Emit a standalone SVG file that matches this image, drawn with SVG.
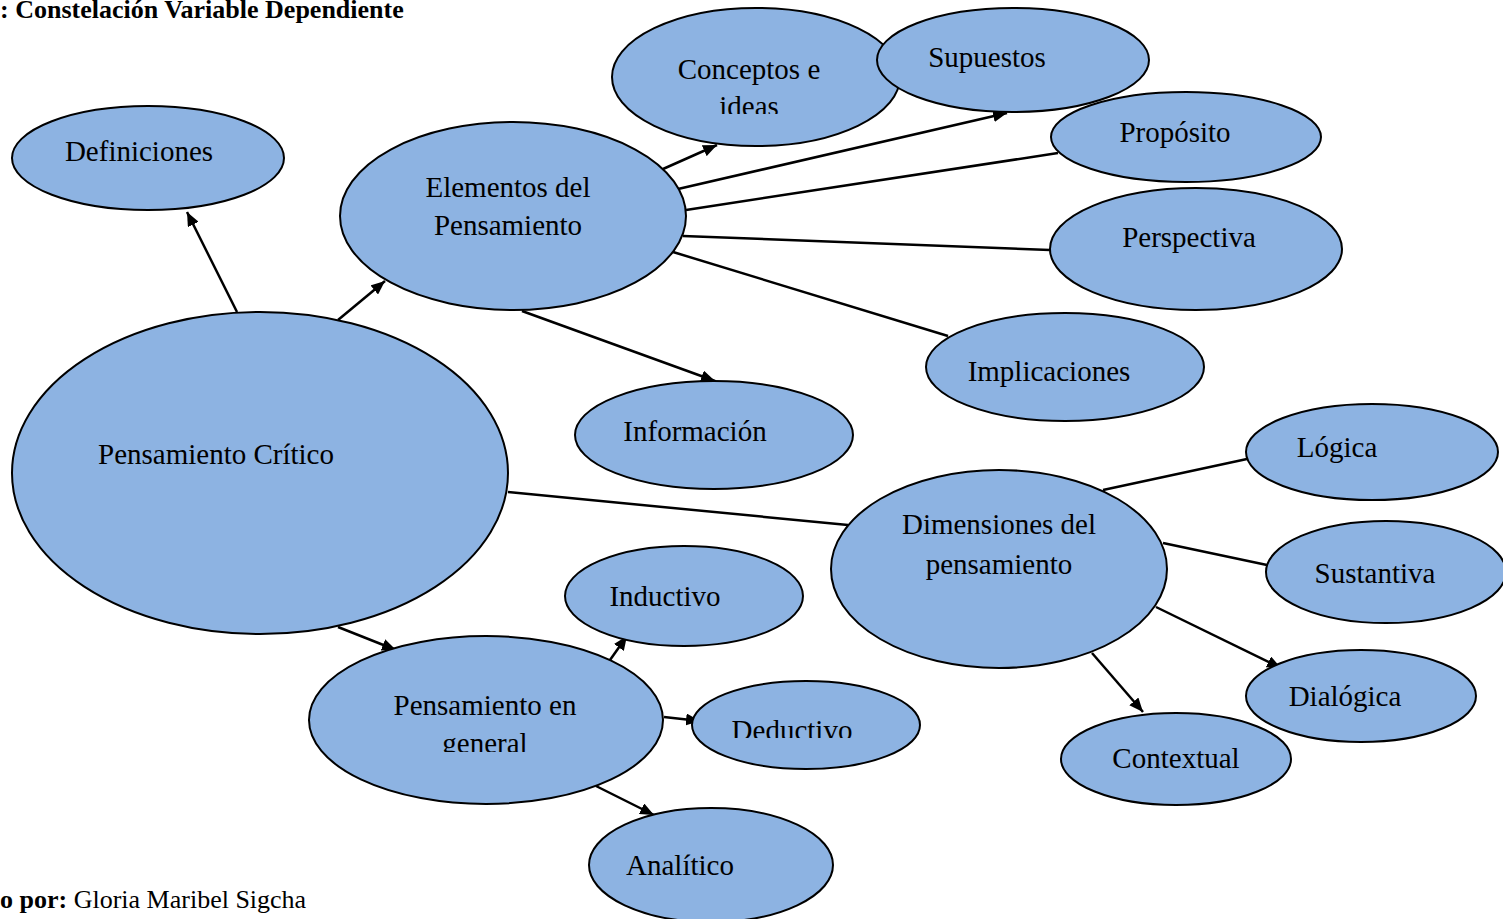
<svg xmlns="http://www.w3.org/2000/svg" width="1503" height="919" viewBox="0 0 1503 919">
<defs>
<style>
.n{fill:#8DB3E2;stroke:#000;stroke-width:2}
.t{font-family:"Liberation Serif","Times New Roman",serif;font-size:29px;fill:#000;text-anchor:middle}
.c line{stroke:#000;stroke-width:2.5}
.hdr{font-family:"Liberation Serif","Times New Roman",serif;font-size:26px;fill:#000}
</style>
<marker id="a" viewBox="0 0 14 12" refX="14" refY="6" markerWidth="14" markerHeight="12" markerUnits="userSpaceOnUse" orient="auto">
<path d="M0,0 L14,6 L0,12 z" fill="#000"/>
</marker>
<clipPath id="clipIdeas"><rect x="600" y="0" width="320" height="114"/></clipPath>
<clipPath id="clipGeneral"><rect x="300" y="700" width="380" height="52"/></clipPath>
<clipPath id="clipDeductivo"><rect x="690" y="680" width="240" height="58"/></clipPath>
</defs>
<rect width="1503" height="919" fill="#fff"/>
<text class="hdr" x="0" y="18" font-weight="bold">: Constelación Variable Dependiente</text>
<text class="hdr" x="0" y="908"><tspan font-weight="bold">o por:</tspan> Gloria Maribel Sigcha</text>

<g id="connectors" class="c">
<line x1="237" y1="312" x2="187" y2="212" marker-end="url(#a)"/>
<line x1="338" y1="320" x2="385" y2="281" marker-end="url(#a)"/>
<line x1="663" y1="169" x2="717" y2="145" marker-end="url(#a)"/>
<line x1="678" y1="189" x2="1007" y2="113" marker-end="url(#a)"/>
<line x1="686" y1="210" x2="1058" y2="153"/>
<line x1="683" y1="236" x2="1050" y2="250"/>
<line x1="673" y1="252" x2="948" y2="336"/>
<line x1="522" y1="311" x2="715" y2="381" marker-end="url(#a)"/>
<line x1="508" y1="492" x2="848" y2="525"/>
<line x1="1103" y1="490" x2="1247" y2="459"/>
<line x1="1163" y1="543" x2="1267" y2="565"/>
<line x1="1156" y1="607" x2="1281" y2="668" marker-end="url(#a)"/>
<line x1="1092" y1="653" x2="1143" y2="712" marker-end="url(#a)"/>
<line x1="338" y1="627" x2="396" y2="650" marker-end="url(#a)"/>
<line x1="610" y1="660" x2="627" y2="636" marker-end="url(#a)"/>
<line x1="664" y1="717" x2="700" y2="721" marker-end="url(#a)"/>
<line x1="596" y1="786" x2="654" y2="815" marker-end="url(#a)"/>
</g>

<g id="definiciones"><ellipse class="n" cx="148" cy="158" rx="136" ry="52"/><text class="t" x="139" y="161">Definiciones</text></g>
<g id="pensamiento-critico"><ellipse class="n" cx="260" cy="473" rx="248" ry="161"/><text class="t" x="216" y="464">Pensamiento Crítico</text></g>
<g id="elementos"><ellipse class="n" cx="513" cy="216" rx="173" ry="94"/><text class="t" x="508" y="197">Elementos del</text><text class="t" x="508" y="235">Pensamiento</text></g>
<g id="conceptos"><ellipse class="n" cx="756" cy="77" rx="144" ry="69"/><text class="t" x="749" y="79">Conceptos e</text><text class="t" x="749" y="116" clip-path="url(#clipIdeas)">ideas</text></g>
<g id="supuestos"><ellipse class="n" cx="1013" cy="60" rx="136" ry="52"/><text class="t" x="987" y="67">Supuestos</text></g>
<g id="proposito"><ellipse class="n" cx="1186" cy="137" rx="135" ry="45"/><text class="t" x="1175" y="142">Propósito</text></g>
<g id="perspectiva"><ellipse class="n" cx="1196" cy="249" rx="146" ry="61"/><text class="t" x="1189" y="247">Perspectiva</text></g>
<g id="implicaciones"><ellipse class="n" cx="1065" cy="367" rx="139" ry="54"/><text class="t" x="1049" y="381">Implicaciones</text></g>
<g id="informacion"><ellipse class="n" cx="714" cy="435" rx="139" ry="54"/><text class="t" x="695" y="441">Información</text></g>
<g id="dimensiones"><ellipse class="n" cx="999" cy="569" rx="168" ry="99"/><text class="t" x="999" y="534">Dimensiones del</text><text class="t" x="999" y="574">pensamiento</text></g>
<g id="logica"><ellipse class="n" cx="1372" cy="452" rx="126" ry="48"/><text class="t" x="1337" y="457">Lógica</text></g>
<g id="sustantiva"><ellipse class="n" cx="1386" cy="572" rx="120" ry="51"/><text class="t" x="1375" y="583">Sustantiva</text></g>
<g id="dialogica"><ellipse class="n" cx="1361" cy="696" rx="115" ry="46"/><text class="t" x="1345" y="706">Dialógica</text></g>
<g id="contextual"><ellipse class="n" cx="1176" cy="759" rx="115" ry="46"/><text class="t" x="1176" y="768">Contextual</text></g>
<g id="inductivo"><ellipse class="n" cx="684" cy="596" rx="119" ry="50"/><text class="t" x="665" y="606">Inductivo</text></g>
<g id="pensamiento-general"><ellipse class="n" cx="486" cy="720" rx="177" ry="84"/><text class="t" x="485" y="715">Pensamiento en</text><text class="t" x="485" y="753" clip-path="url(#clipGeneral)">general</text></g>
<g id="deductivo"><ellipse class="n" cx="806" cy="725" rx="114" ry="44"/><text class="t" x="792" y="740" clip-path="url(#clipDeductivo)">Deductivo</text></g>
<g id="analitico"><ellipse class="n" cx="711" cy="865" rx="122" ry="57"/><text class="t" x="680" y="875">Analítico</text></g>
</svg>
